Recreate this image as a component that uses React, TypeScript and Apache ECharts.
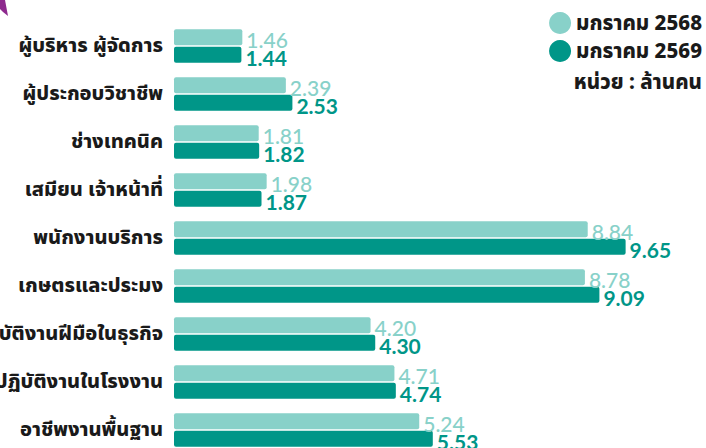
import React, { useEffect, useRef } from "react";
import * as echarts from "echarts";

const categories = [
  "ผู้บริหาร ผู้จัดการ",
  "ผู้ประกอบวิชาชีพ",
  "ช่างเทคนิค",
  "เสมียน เจ้าหน้าที่",
  "พนักงานบริการ",
  "เกษตรและประมง",
  "ปฏิบัติงานฝีมือในธุรกิจ",
  "ปฏิบัติงานในโรงงาน",
  "อาชีพงานพื้นฐาน",
];
const seriesNames = ["มกราคม 2568", "มกราคม 2569"];
const values2568 = [1.46, 2.39, 1.81, 1.98, 8.84, 8.78, 4.2, 4.71, 5.24];
const values2569 = [1.44, 2.53, 1.82, 1.87, 9.65, 9.09, 4.3, 4.74, 5.53];
const unitText = "หน่วย : ล้านคน";

const LIGHT = "#88d1c9";
const DARK = "#009688";
const THAI = "'Noto Sans Thai', 'Noto Sans', sans-serif";
const NUM = "Lato, 'Noto Sans', sans-serif";

export default function App() {
  const ref = useRef<HTMLDivElement>(null);
  useEffect(() => {
    if (!ref.current) return;
    const chart = echarts.init(ref.current, undefined, { renderer: "svg" });
    chart.setOption({
      animation: false,
      backgroundColor: "#ffffff",
      grid: {
        left: 174,
        right: 64,
        top: 22,
        height: 432,
        containLabel: false,
        outerBoundsMode: "none",
      },
      legend: {
        data: seriesNames,
        orient: "vertical",
        right: 4,
        top: 12,
        icon: "circle",
        itemWidth: 22,
        itemHeight: 22,
        itemGap: 6,
        padding: 0,
        align: "left",
        textStyle: { fontSize: 20.5, fontWeight: 800, color: "#1a1a1a", fontFamily: THAI },
      },
      xAxis: { type: "value", min: 0, max: 10, show: false },
      yAxis: {
        type: "category",
        data: categories,
        inverse: true,
        axisLine: { show: false },
        axisTick: { show: false },
        axisLabel: {
          fontSize: 20,
          fontWeight: 800,
          color: "#1a1a1a",
          fontFamily: THAI,
          margin: 11,
        },
      },
      series: [
        {
          name: seriesNames[0],
          type: "bar",
          data: values2568,
          barWidth: 16,
          barGap: "8%",
          itemStyle: { color: LIGHT, borderRadius: 2 },
          label: {
            show: true,
            position: "right",
            distance: 4,
            offset: [0, 2],
            formatter: (p: any) => p.value.toFixed(2),
            fontSize: 21,
            fontFamily: NUM,
            fontWeight: 500,
            color: LIGHT,
          },
        },
        {
          name: seriesNames[1],
          type: "bar",
          data: values2569,
          barWidth: 16,
          itemStyle: { color: DARK, borderRadius: 2 },
          label: {
            show: true,
            position: "right",
            distance: 4,
            offset: [0, 3],
            formatter: (p: any) => p.value.toFixed(2),
            fontSize: 21,
            fontFamily: NUM,
            fontWeight: "bold",
            color: DARK,
          },
        },
      ],
      graphic: [
        {
          type: "polygon",
          shape: { points: [[0, 0], [5, 0], [8, 16], [3, 12], [0, 9]] },
          style: { fill: "#8e2a8e" },
        },
        {
          type: "text",
          right: 4,
          top: 72,
          style: {
            text: unitText,
            fontSize: 20.5,
            fontWeight: 800,
            fill: "#1a1a1a",
            fontFamily: THAI,
          },
        },
      ],
    });
    return () => chart.dispose();
  }, []);
  return (
    <div
      ref={ref}
      style={{ position: "fixed", left: 0, top: 0, width: 706, height: 448 }}
    />
  );
}
